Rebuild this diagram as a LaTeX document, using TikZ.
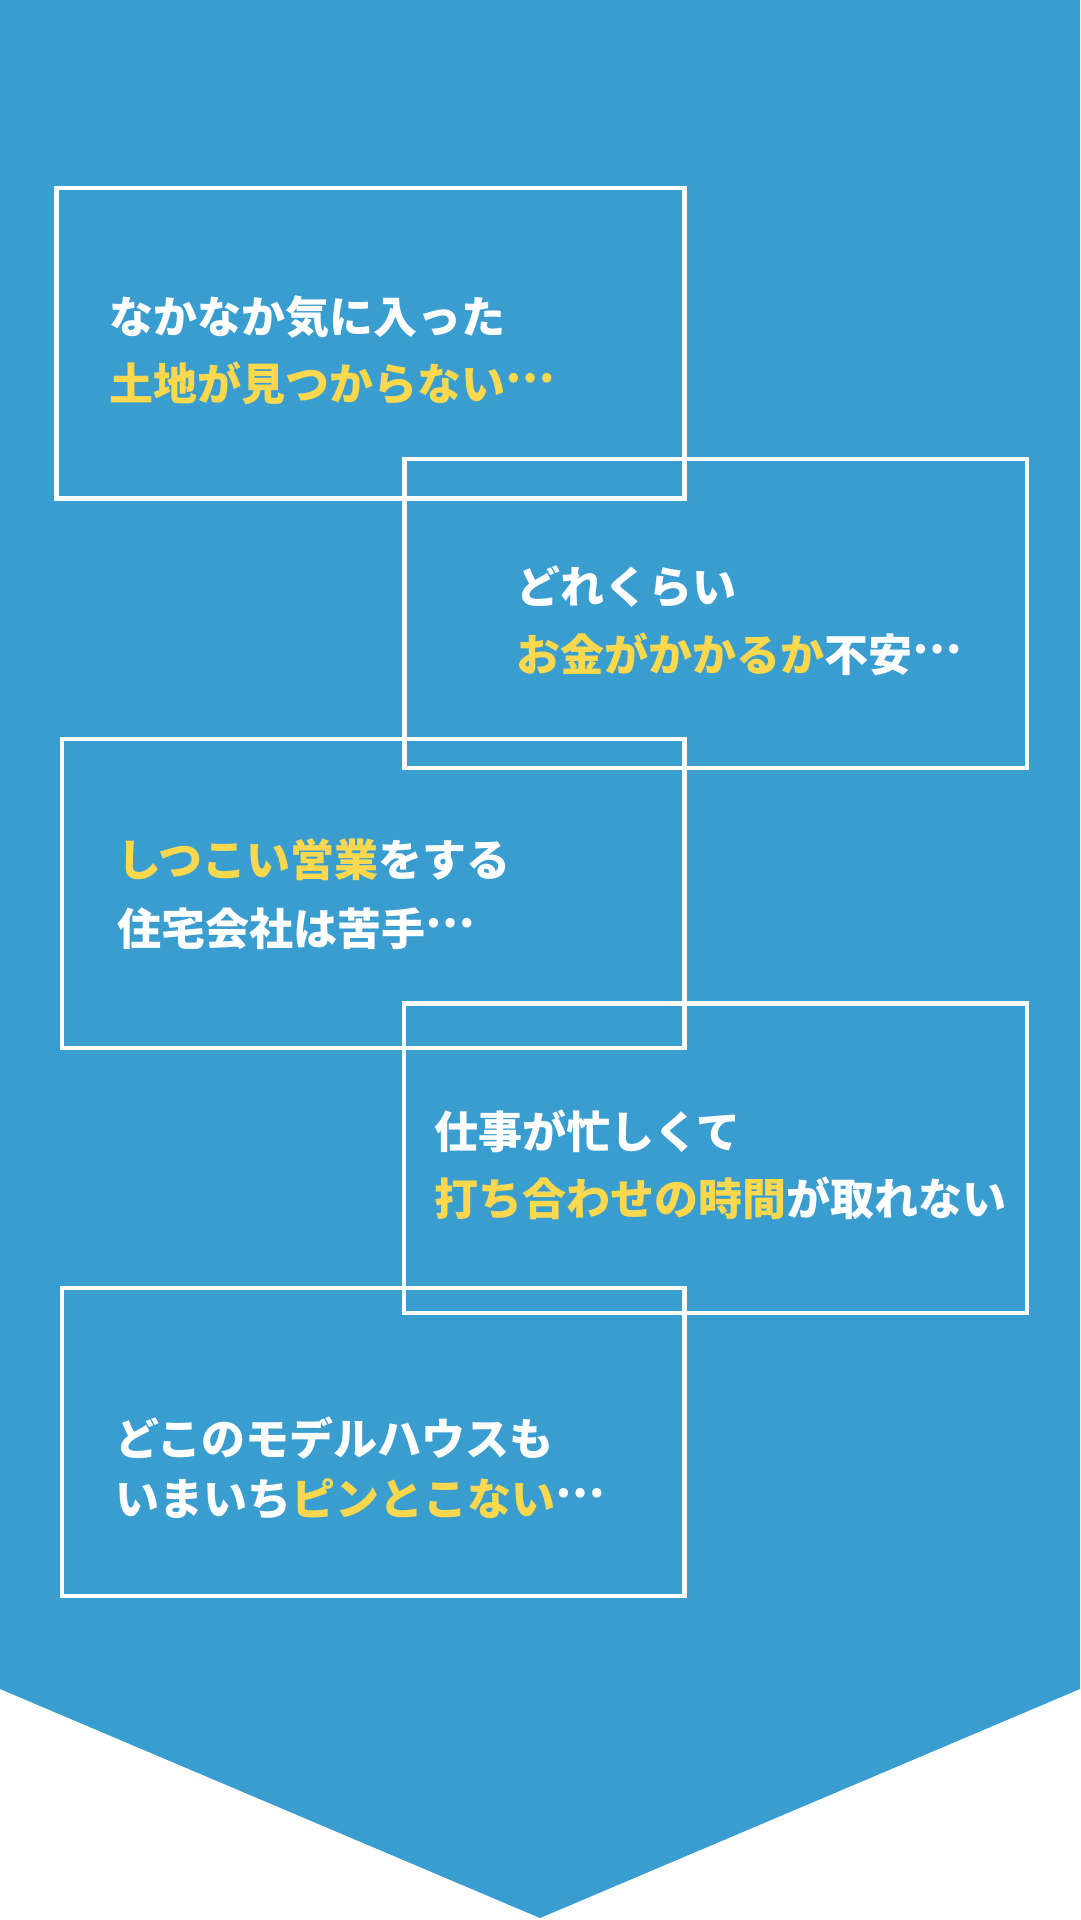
\documentclass[tikz,border=0pt]{standalone}
\usepackage{fontspec}
\newfontfamily\jp{Noto Sans CJK JP}
\definecolor{bgblue}{RGB}{58,157,207}
\definecolor{hl}{RGB}{252,216,78}
\newcommand{\hlt}[1]{\textcolor{hl}{#1}}
\newcommand{\tdots}{\raisebox{0.4em}{…}}
\begin{document}
\begin{tikzpicture}[x=1pt,y=-1pt,
  box/.style={draw=white, line width=4.5pt, outer sep=0pt, inner sep=0pt, anchor=north west, minimum width=#1},
  box/.default=628pt,
  txt/.style={anchor=base west, inner sep=0pt, outer sep=0pt, text=white, font=\jp\bfseries\fontsize{44}{52}\selectfont}]
\useasboundingbox (0,0) rectangle (1080,1920);
\fill[white] (0,0) rectangle (1080,1920);
\fill[bgblue] (0,0) -- (1080,0) -- (1080,1689) -- (540,1918) -- (0,1689) -- cycle;
% boxes
\node[box=628pt, minimum height=310.5pt] (b1) at (56.5,188) {};
\node[box=622.5pt, minimum height=309pt] (b2) at (404.5,459) {};
\node[box=622.5pt, minimum height=309pt] (b3) at (62,739) {};
\node[box=623pt, minimum height=309.5pt] (b4) at (404,1003.5) {};
\node[box=622.5pt, minimum height=308pt] (b5) at (62,1288) {};
% texts
\node[txt] (t1a) at (109,333) {なかなか気に入った};
\node[txt] (t1b) at (109,400) {\hlt{土地が見つからない\tdots}};
\node[txt] (t2a) at (516,603) {どれくらい};
\node[txt] (t2b) at (516,671) {\hlt{お金がかかるか}不安\tdots};
\node[txt] (t3a) at (117,876) {\hlt{しつこい営業}をする};
\node[txt] (t3b) at (117,945) {住宅会社は苦手\tdots};
\node[txt] (t4a) at (434,1148) {仕事が忙しくて};
\node[txt] (t4b) at (434,1215) {\hlt{打ち合わせの時間}が取れない};
\node[txt] (t5a) at (115,1455) {どこのモデルハウスも};
\node[txt] (t5b) at (115,1515) {いまいち\hlt{ピンとこない}\tdots};
\end{tikzpicture}
\end{document}
